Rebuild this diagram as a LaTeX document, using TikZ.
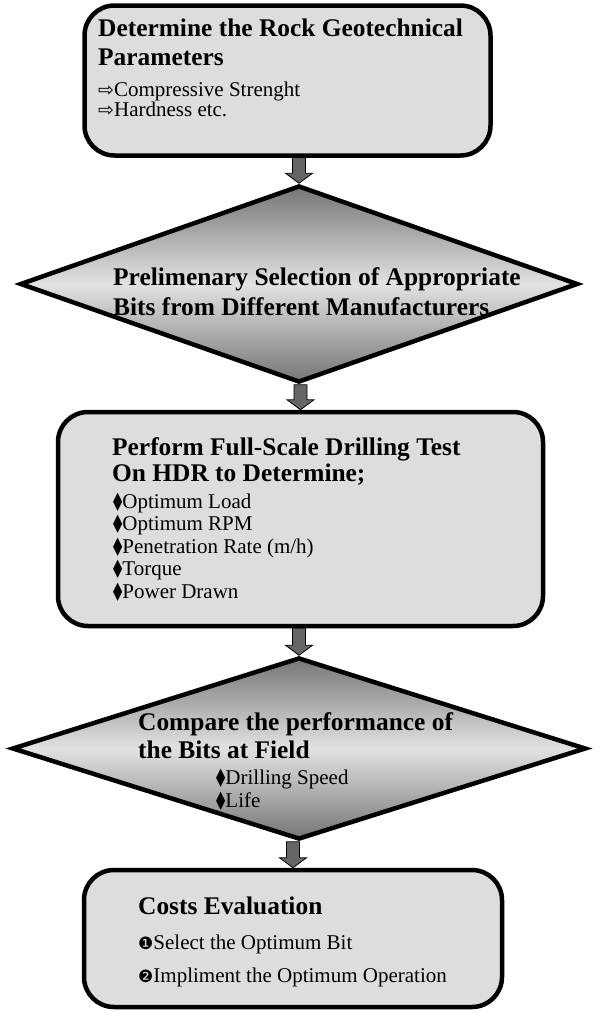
\documentclass[tikz,border=0pt]{standalone}
\usepackage{fontspec}
\setmainfont{Liberation Serif}
\newfontfamily\symfont{DejaVu Sans}
\usetikzlibrary{shapes.geometric,calc}
\definecolor{boxfill}{RGB}{221,221,221}
\definecolor{dshade}{RGB}{118,118,118}
\definecolor{lshade}{RGB}{226,226,226}
\definecolor{arrowfill}{RGB}{102,102,102}
\newcommand\hdfont{\fontsize{25.4}{29}\selectfont\bfseries}
\newcommand\itmfont{\fontsize{21}{24}\selectfont}
\newcommand\arrb{{\symfont\fontsize{19}{19}\selectfont ⇨}}
\newcommand\lozb{{\symfont\fontsize{24}{24}\selectfont\scalebox{0.5}[1]{◆}}}
\newcommand\numa{{\symfont\fontsize{17}{17}\selectfont ❶}}
\newcommand\numb{{\symfont\fontsize{17}{17}\selectfont ❷}}
\newcommand\flowarrow[2]{%
  \path[flowarr] let \p1=(#1.south), \p2=(#2.north) in
   (\x2-6.5pt,\y1) -- (\x2+6.5pt,\y1) -- (\x2+6.5pt,\y2+10pt) -- (\x2+13.5pt,\y2+10pt)
   -- (\x2,\y2) -- (\x2-13.5pt,\y2+10pt) -- (\x2-6.5pt,\y2+10pt) -- cycle;}
\begin{document}
\begin{tikzpicture}[x=1pt,y=-1pt,
  procbox/.style={draw, line width=4.5pt, rounded corners=30pt, fill=boxfill, inner sep=0pt},
  decbox/.style={diamond, draw, line width=4.5pt, top color=dshade, bottom color=dshade,
                 middle color=lshade, inner sep=0pt},
  hd/.style={anchor=base west, inner sep=0pt, font=\hdfont},
  itm/.style={anchor=base west, inner sep=0pt, font=\itmfont},
  flowarr/.style={fill=arrowfill, draw=black, line width=0.8pt}]
\useasboundingbox (0,0) rectangle (598,1015);
\fill[white] (0,0) rectangle (598,1015);

% shapes
\node[procbox, minimum width=406pt, minimum height=150pt] (b1) at (287.5,80.5) {};
\node[decbox, minimum width=558pt, minimum height=197pt] (d1) at (299,284) {};
\node[procbox, minimum width=485pt, minimum height=214pt] (b2) at (300.5,519) {};
\node[decbox, minimum width=574pt, minimum height=182pt] (d2) at (299,748.5) {};
\node[procbox, minimum width=418pt, minimum height=137pt] (b3) at (293,938.5) {};

% connectors
\flowarrow{b1}{d1}
\flowarrow{d1}{b2}
\flowarrow{b2}{d2}
\flowarrow{d2}{b3}

% box 1 text
\node[hd] (t1a) at (98,36) {Determine the Rock Geotechnical};
\node[hd] (t1b) at (98,65) {Parameters};
\node[itm] (t1c) at (98,96) {\arrb Compressive Strenght};
\node[itm] (t1d) at (98,116) {\arrb Hardness etc.};

% diamond 1 text
\node[hd] (t2a) at (113,285) {Prelimenary Selection of Appropriate};
\node[hd] (t2b) at (113,315) {Bits from Different Manufacturers};

% box 2 text
\node[hd] (t3a) at (112,455) {Perform Full-Scale Drilling Test};
\node[hd] (t3b) at (112,481) {On HDR to Determine;};
\node[itm] (t3c) at (113,508) {\lozb Optimum Load};
\node[itm] (t3d) at (113,530.5) {\lozb Optimum RPM};
\node[itm] (t3e) at (113,553) {\lozb Penetration Rate (m/h)};
\node[itm] (t3f) at (113,575.5) {\lozb Torque};
\node[itm] (t3g) at (113,598) {\lozb Power Drawn};

% diamond 2 text
\node[hd] (t4a) at (138,730) {Compare the performance of};
\node[hd] (t4b) at (138,758) {the Bits at Field};
\node[itm] (t4c) at (216,784) {\lozb Drilling Speed};
\node[itm] (t4d) at (216,807) {\lozb Life};

% box 3 text
\node[hd] (t5a) at (138,914) {Costs Evaluation};
\node[itm] (t5b) at (138,949) {\numa Select the Optimum Bit};
\node[itm] (t5c) at (138,982) {\numb Impliment the Optimum Operation};
\end{tikzpicture}
\end{document}
